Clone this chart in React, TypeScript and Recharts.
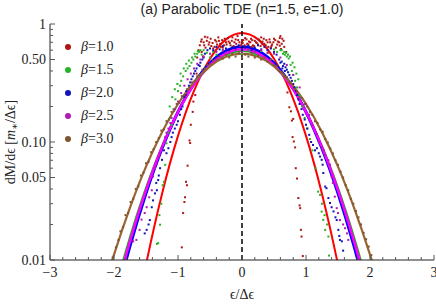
import React from 'react'
import { ComposedChart, Line, Scatter, XAxis, YAxis, ReferenceLine } from 'recharts'

const BETAS = ['1.0', '1.5', '2.0', '2.5', '3.0']
const LINE_COLORS = ['#ff0000', '#1fa51f', '#0000ff', '#ff00ff', '#996633']
const DOT_COLORS = ['#b01515', '#26b326', '#1313b8', '#b31ab3', '#7f5430']
const LINE_WIDTHS = [2, 1.5, 3, 2.5, 2.2]

// model curves, sampled every 0.25 in eps/deps
const CURVE_X = [-2.5, -2.25, -2, -1.75, -1.5, -1.25, -1, -0.75, -0.5, -0.25, 0, 0.25, 0.5, 0.75, 1, 1.25, 1.5, 1.75, 2, 2.25, 2.5]
const RED_CURVE = [0.000003, 0.00003, 0.00027, 0.00178, 0.00912, 0.0363, 0.1126, 0.271, 0.508, 0.741, 0.84, 0.741, 0.508, 0.271, 0.1126, 0.0363, 0.00912, 0.00178, 0.00027, 0.00003, 0.000003]
const GREEN_CURVE = [0.00037, 0.0015, 0.00526, 0.0159, 0.0415, 0.0934, 0.181, 0.304, 0.439, 0.548, 0.59, 0.548, 0.439, 0.304, 0.181, 0.0934, 0.0415, 0.0159, 0.00526, 0.0015, 0.00037]
const BLUE_CURVE = [0.00023, 0.00103, 0.00398, 0.0131, 0.0367, 0.088, 0.1797, 0.313, 0.466, 0.591, 0.64, 0.591, 0.466, 0.313, 0.1797, 0.088, 0.0367, 0.0131, 0.00398, 0.00103, 0.00023]
const MAGENTA_CURVE = [0.00029, 0.00125, 0.00458, 0.0144, 0.0389, 0.0902, 0.1795, 0.307, 0.449, 0.565, 0.61, 0.565, 0.449, 0.307, 0.1795, 0.0902, 0.0389, 0.0144, 0.00458, 0.00125, 0.00029]
const BROWN_CURVE = [0.00123, 0.00392, 0.0111, 0.0278, 0.0618, 0.1211, 0.21, 0.323, 0.438, 0.527, 0.56, 0.527, 0.438, 0.323, 0.21, 0.1211, 0.0618, 0.0278, 0.0111, 0.00392, 0.00123]

// simulation points [eps, dM/deps]
const RED_PTS = [
  [-0.94, 0.0128], [-0.92, 0.025], [-0.9, 0.031], [-0.89, 0.034], [-0.875, 0.046], [-0.86, 0.043], [-0.85, 0.063], [-0.82, 0.103],
  [-0.81, 0.098], [-0.8, 0.14], [-0.77, 0.18], [-0.76, 0.22], [-0.73, 0.25], [-0.71, 0.38], [-0.7, 0.52], [-0.68, 0.6],
  [-0.66, 0.66], [-0.63, 0.58], [-0.61, 0.53], [-0.63, 0.74], [-0.6, 0.7], [-0.57, 0.63], [-0.55, 0.72], [-0.52, 0.67],
  [-0.49, 0.75], [-0.46, 0.69], [-0.43, 0.64], [-0.4, 0.71], [-0.37, 0.77], [-0.34, 0.68], [-0.31, 0.73], [-0.28, 0.66],
  [-0.25, 0.7], [-0.22, 0.76], [-0.19, 0.69], [-0.16, 0.72], [-0.13, 0.65], [-0.1, 0.74], [-0.07, 0.79], [-0.04, 0.7],
  [-0.01, 0.67], [0.02, 0.73], [0.05, 0.76], [0.08, 0.68], [0.11, 0.71], [0.14, 0.75], [0.17, 0.66], [0.2, 0.72],
  [0.23, 0.69], [0.26, 0.74], [0.29, 0.65], [0.32, 0.71], [0.35, 0.68], [0.38, 0.73], [0.41, 0.64], [0.44, 0.7],
  [0.47, 0.67], [0.5, 0.75], [0.53, 0.63], [0.56, 0.71], [0.59, 0.76], [0.62, 0.68], [0.65, 0.72], [0.6, 0.79],
  [-0.58, 0.78], [-0.45, 0.62], [-0.3, 0.63], [-0.15, 0.77], [0.0, 0.71], [0.15, 0.64], [0.3, 0.77], [0.45, 0.63],
  [-0.64, 0.71], [-0.59, 0.66], [-0.54, 0.77], [-0.51, 0.7], [-0.48, 0.65], [-0.42, 0.73], [-0.39, 0.67], [-0.36, 0.72],
  [-0.33, 0.64], [-0.27, 0.75], [-0.24, 0.67], [-0.21, 0.71], [-0.18, 0.66], [-0.12, 0.7], [-0.09, 0.68], [-0.06, 0.73],
  [-0.03, 0.65], [0.01, 0.69], [0.04, 0.66], [0.07, 0.74], [0.1, 0.67], [0.13, 0.7], [0.16, 0.73], [0.19, 0.65],
  [0.22, 0.7], [0.25, 0.67], [0.28, 0.72], [0.31, 0.68], [0.34, 0.75], [0.37, 0.66], [0.4, 0.7], [0.43, 0.74],
  [0.46, 0.65], [0.49, 0.7], [0.52, 0.73], [0.55, 0.67], [0.58, 0.7], [0.63, 0.75], [0.66, 0.64],
  [0.59, 0.655], [0.61, 0.614], [0.69, 0.58], [0.71, 0.263], [0.74, 0.197], [0.765, 0.182], [0.78, 0.152], [0.8, 0.157],
  [0.79, 0.11], [0.81, 0.101], [0.83, 0.09], [0.84, 0.06], [0.86, 0.049], [0.88, 0.0335], [0.9, 0.029], [0.91, 0.0275],
  [0.92, 0.018], [0.93, 0.0158], [0.95, 0.0108],
]
const GREEN_PTS = [
  [-1.33, 0.0137], [-1.31, 0.0139], [-1.28, 0.0199], [-1.24, 0.043], [-1.22, 0.046], [-1.2, 0.064], [-1.18, 0.0975], [-1.15, 0.12],
  [-1.12, 0.16], [-1.1, 0.14], [-1.07, 0.19], [-1.04, 0.23], [-1.0, 0.27], [-0.97, 0.3], [-0.95, 0.33], [-0.92, 0.36],
  [-0.88, 0.4], [-0.85, 0.42], [-0.82, 0.44], [-0.79, 0.47], [-0.76, 0.5], [-0.73, 0.53], [-0.7, 0.56], [-0.67, 0.58],
  [-0.63, 0.55], [-0.6, 0.6], [-0.55, 0.57], [-0.5, 0.52], [-0.45, 0.58], [-0.4, 0.55], [-0.3, 0.6], [-0.2, 0.54],
  [-0.1, 0.58], [0.0, 0.56], [0.1, 0.6], [0.2, 0.55], [0.3, 0.59], [0.4, 0.57], [0.5, 0.61], [0.55, 0.58],
  [0.6, 0.6], [0.64, 0.56], [0.67, 0.55], [0.7, 0.53], [0.73, 0.51], [0.76, 0.45], [0.78, 0.4], [0.8, 0.37],
  [0.83, 0.33], [0.86, 0.29], [0.9, 0.25], [0.94, 0.2], [0.98, 0.16], [1.02, 0.13], [1.06, 0.106], [1.1, 0.085],
  [1.15, 0.06], [1.19, 0.038], [1.22, 0.0356], [1.245, 0.0257], [1.27, 0.0219], [1.3, 0.018], [1.35, 0.0158], [1.36, 0.0109],
  [-1.13, 0.2], [-1.09, 0.24], [-1.05, 0.28], [-1.01, 0.31], [-0.96, 0.38], [-0.91, 0.42], [-0.87, 0.46], [-0.83, 0.49],
  [-0.78, 0.52], [-0.74, 0.56], [-0.69, 0.59], [-0.65, 0.6], [0.62, 0.6], [0.66, 0.58], [0.69, 0.57], [0.72, 0.55],
  [0.75, 0.53], [0.79, 0.47], [0.82, 0.43], [0.85, 0.38], [0.88, 0.34], [1.25, 0.03], [1.29, 0.024], [1.33, 0.02],
  [-1.26, 0.03], [-1.29, 0.024],
]
const BLUE_PTS = [
  [-1.52, 0.0168], [-1.49, 0.018], [-1.44, 0.0218], [-1.41, 0.028], [-1.36, 0.0367], [-1.33, 0.039], [-1.31, 0.0476], [-1.28, 0.06],
  [-1.25, 0.0706], [-1.18, 0.0803], [-1.15, 0.0886], [-1.1, 0.11], [-1.05, 0.13], [-1.0, 0.15], [-0.97, 0.17], [-0.93, 0.2],
  [-0.9, 0.24], [-0.87, 0.27], [-0.83, 0.3], [-0.79, 0.34], [-0.75, 0.38], [-0.71, 0.42], [-0.68, 0.45], [-0.65, 0.47],
  [-0.62, 0.5], [-0.58, 0.56], [-0.54, 0.6], [-0.5, 0.62], [-0.45, 0.6], [-0.4, 0.64], [-0.35, 0.61], [-0.3, 0.65],
  [-0.25, 0.62], [-0.2, 0.6], [-0.15, 0.64], [-0.1, 0.62], [-0.05, 0.66], [0.0, 0.61], [0.05, 0.63], [0.1, 0.65],
  [0.15, 0.6], [0.2, 0.63], [0.25, 0.66], [0.3, 0.61], [0.35, 0.64], [0.4, 0.6], [0.45, 0.62], [0.5, 0.58],
  [0.54, 0.55], [0.58, 0.5], [0.62, 0.48], [0.64, 0.44], [0.66, 0.46], [0.68, 0.43], [0.7, 0.41], [0.74, 0.37],
  [0.78, 0.33], [0.82, 0.29], [0.86, 0.25], [0.9, 0.21], [0.95, 0.17], [1.0, 0.14], [1.05, 0.115], [1.11, 0.0944],
  [1.17, 0.0886], [1.2, 0.0803], [1.22, 0.0752], [1.245, 0.0706], [1.26, 0.0642], [1.27, 0.0546], [1.3, 0.0419], [1.32, 0.0406],
  [1.35, 0.0335], [1.375, 0.0304], [1.43, 0.0258], [1.48, 0.0218], [1.505, 0.018], [1.53, 0.0148], [1.56, 0.0144], [1.58, 0.012],
  [-1.46, 0.02], [-1.39, 0.032], [-1.34, 0.045], [-1.3, 0.052], [-1.22, 0.085], [-1.12, 0.1], [-1.08, 0.12], [-1.02, 0.14],
  [-0.95, 0.19], [-0.88, 0.25], [-0.81, 0.32], [-0.77, 0.36], [-0.73, 0.4], [-0.66, 0.44], [-0.6, 0.52], [0.6, 0.47],
  [0.63, 0.42], [0.67, 0.4], [0.72, 0.39], [0.76, 0.35], [0.8, 0.31], [0.84, 0.27], [0.88, 0.23], [0.93, 0.19],
  [0.98, 0.155], [1.02, 0.13], [1.08, 0.1], [1.14, 0.085], [1.4, 0.028], [1.46, 0.023], [1.52, 0.016],
]
const MAGENTA_PTS = [
  [-1.7, 0.0144], [-1.65, 0.0148], [-1.57, 0.022], [-1.49, 0.028], [-1.41, 0.039], [-1.39, 0.051], [-1.36, 0.06], [-1.3, 0.075],
  [-1.25, 0.09], [-1.2, 0.11], [-1.15, 0.13], [-1.1, 0.16], [-1.05, 0.19], [-1.0, 0.22], [-0.95, 0.26], [-0.9, 0.3],
  [-0.85, 0.34], [-0.8, 0.38], [-0.75, 0.42], [-0.7, 0.46], [-0.65, 0.5], [-0.6, 0.53], [-0.5, 0.56], [-0.4, 0.58],
  [-0.3, 0.6], [-0.2, 0.57], [-0.1, 0.6], [0.0, 0.58], [0.1, 0.61], [0.2, 0.58], [0.3, 0.6], [0.4, 0.57],
  [0.5, 0.56], [0.6, 0.52], [0.7, 0.45], [0.8, 0.37], [0.9, 0.29], [1.0, 0.21], [1.05, 0.17], [1.1, 0.14],
  [1.17, 0.117], [1.25, 0.09], [1.3, 0.078], [1.375, 0.0642], [1.4, 0.0508], [1.45, 0.0344], [1.48, 0.0275], [1.53, 0.0218],
  [1.61, 0.0186], [1.64, 0.0168], [1.66, 0.0148],
  [-1.6, 0.018], [-1.52, 0.025], [-1.45, 0.034], [-1.33, 0.065], [-1.28, 0.08], [1.35, 0.07], [1.42, 0.045], [1.5, 0.025],
  [1.58, 0.02], [1.28, 0.085], [1.2, 0.1], [-1.18, 0.12], [-1.12, 0.145],
]
const BROWN_PTS = [
  [-2.02, 0.0105], [-1.97, 0.0128], [-1.93, 0.0148], [-1.9, 0.0175], [-1.86, 0.019], [-1.82, 0.024], [-1.78, 0.025], [-1.74, 0.031],
  [-1.7, 0.033], [-1.66, 0.04], [-1.62, 0.042], [-1.58, 0.052], [-1.54, 0.055], [-1.5, 0.066], [-1.46, 0.068], [-1.42, 0.082],
  [-1.38, 0.087], [-1.34, 0.1], [-1.3, 0.108], [-1.26, 0.125], [-1.22, 0.128], [-1.18, 0.15], [-1.14, 0.155], [-1.1, 0.18],
  [-1.06, 0.185], [-1.02, 0.21], [-0.98, 0.215], [-0.94, 0.245], [-0.9, 0.25], [-0.86, 0.28], [-0.82, 0.29], [-0.78, 0.32],
  [-0.74, 0.33], [-0.7, 0.36], [-0.66, 0.37], [-0.62, 0.41], [-0.58, 0.42], [-0.54, 0.45], [-0.5, 0.46], [-0.45, 0.49],
  [-0.4, 0.5], [-0.35, 0.53], [-0.3, 0.51], [-0.25, 0.55], [-0.2, 0.52], [-0.15, 0.56], [-0.1, 0.53], [-0.05, 0.57],
  [0.0, 0.52], [0.05, 0.55], [0.1, 0.53], [0.15, 0.57], [0.2, 0.52], [0.25, 0.54], [0.3, 0.5], [0.35, 0.52],
  [0.4, 0.48], [0.45, 0.5], [0.5, 0.45], [0.54, 0.44], [0.58, 0.4], [0.62, 0.39], [0.66, 0.36], [0.7, 0.355],
  [0.74, 0.32], [0.78, 0.31], [0.82, 0.28], [0.86, 0.27], [0.9, 0.24], [0.94, 0.235], [0.98, 0.21], [1.02, 0.2],
  [1.06, 0.18], [1.1, 0.17], [1.14, 0.15], [1.18, 0.145], [1.22, 0.128], [1.26, 0.122], [1.3, 0.106], [1.34, 0.099],
  [1.38, 0.088], [1.42, 0.08], [1.46, 0.07], [1.5, 0.064], [1.54, 0.056], [1.58, 0.05], [1.62, 0.043], [1.66, 0.039],
  [1.7, 0.033], [1.74, 0.03], [1.78, 0.026], [1.82, 0.023], [1.86, 0.02], [1.9, 0.017], [1.94, 0.015], [1.98, 0.013], [2.02, 0.011],
]

const X_MAJOR = [-3, -2, -1, 0, 1, 2, 3]
const X_TICKS = Array.from({ length: 31 }, (_, i) => Math.round((-3 + i * 0.2) * 10) / 10)
const Y_TICKS = [0.01, 0.02, 0.03, 0.04, 0.05, 0.06, 0.07, 0.08, 0.09, 0.1, 0.2, 0.3, 0.4, 0.5, 0.6, 0.7, 0.8, 0.9, 1]
const Y_LABELS: Record<string, string> = { '0.01': '0.01', '0.05': '0.05', '0.1': '0.10', '0.5': '0.50', '1': '1' }

const CURVES = [RED_CURVE, GREEN_CURVE, BLUE_CURVE, MAGENTA_CURVE, BROWN_CURVE]
const POINTS = [RED_PTS, GREEN_PTS, BLUE_PTS, MAGENTA_PTS, BROWN_PTS]

const SERIF = '"Liberation Serif", "DejaVu Serif", serif'
const TICK_COLOR = '#555'

const toCurve = (ys: number[]) => CURVE_X.map((x, i) => ({ x, y: ys[i] }))
const toPts = (pts: number[][]) => pts.map(([x, y]) => ({ x, y }))

function fmtX(v: number) {
  return v < 0 ? '\u2212' + Math.abs(v) : String(v)
}

function BottomTick({ x, y, payload }: any) {
  const major = X_MAJOR.includes(payload.value)
  return (
    <g>
      <line x1={x} x2={x} y1={y} y2={y - (major ? 5 : 3)} stroke={TICK_COLOR} />
      {major && (
        <text x={x} y={y + 17} textAnchor="middle" fontFamily={SERIF} fontSize={14} fill="#222">
          {fmtX(payload.value)}
        </text>
      )}
    </g>
  )
}

function TopTick({ x, y, payload }: any) {
  const major = X_MAJOR.includes(payload.value)
  return <line x1={x} x2={x} y1={y} y2={y + (major ? 5 : 3)} stroke={TICK_COLOR} />
}

function LeftTick({ x, y, payload }: any) {
  const label = Y_LABELS[String(payload.value)]
  return (
    <g>
      <line x1={x} x2={x + (label ? 5 : 3)} y1={y} y2={y} stroke={TICK_COLOR} />
      {label && (
        <text x={x - 4} y={y} dy="0.33em" textAnchor="end" fontFamily={SERIF} fontSize={14} fill="#222">
          {label}
        </text>
      )}
    </g>
  )
}

function RightTick({ x, y, payload }: any) {
  const label = Y_LABELS[String(payload.value)]
  return <line x1={x} x2={x - (label ? 5 : 3)} y1={y} y2={y} stroke={TICK_COLOR} />
}

function YLabel({ viewBox }: any) {
  const cx = viewBox.x + 10
  const cy = viewBox.y + viewBox.height / 2
  return (
    <text x={cx} y={cy} transform={`rotate(-90 ${cx} ${cy})`} textAnchor="middle" dy="0.33em" fontFamily={SERIF} fontSize={14} fill="#222">
      dM/d{'\u03F5'} [<tspan fontStyle="italic">m</tspan>
      <tspan fontSize={10} dy={3}>{'\u2217'}</tspan>
      <tspan dy={-3}>/{'\u0394\u03F5'}]</tspan>
    </text>
  )
}

function XLabel({ viewBox }: any) {
  return (
    <text x={viewBox.x + viewBox.width / 2} y={viewBox.y + 39} textAnchor="middle" fontFamily={SERIF} fontSize={14} fill="#222">
      {'\u03F5/\u0394\u03F5'}
    </text>
  )
}

const dotShape = (color: string) => (props: any) => (
  <rect x={props.cx - 1} y={props.cy - 1} width={2} height={2} fill={color} />
)

export default function App() {
  return (
    <div style={{ position: 'absolute', left: 0, top: 0, width: 436, height: 304, background: '#fff' }}>
      <div
        style={{
          position: 'absolute', left: 50, top: 1, width: 384, textAlign: 'center',
          fontFamily: '"Liberation Sans", Arial, sans-serif', fontSize: 14, color: '#222', lineHeight: '16px',
        }}
      >
        (a) Parabolic TDE (n=1.5, e=1.0)
      </div>
      <ComposedChart width={436} height={304} margin={{ top: 24, right: 2, bottom: 0, left: 0 }}>
        <XAxis
          xAxisId="b" dataKey="x" type="number" domain={[-3, 3]} ticks={X_TICKS} interval={0}
          allowDataOverflow height={44} tickSize={0} tickMargin={0} tick={<BottomTick />}
          tickLine={false} axisLine={{ stroke: '#222' }} label={<XLabel />}
        />
        <XAxis
          xAxisId="t" orientation="top" type="number" domain={[-3, 3]} ticks={X_TICKS} interval={0}
          allowDataOverflow height={0} tickSize={0} tickMargin={0} tick={<TopTick />}
          tickLine={false} axisLine={{ stroke: '#222' }}
        />
        <YAxis
          yAxisId="l" dataKey="y" type="number" scale="log" domain={[0.01, 1]} ticks={Y_TICKS} interval={0}
          allowDataOverflow width={50} tickSize={0} tickMargin={0} tick={<LeftTick />}
          tickLine={false} axisLine={{ stroke: '#222' }} label={<YLabel />}
        />
        <YAxis
          yAxisId="r" orientation="right" type="number" scale="log" domain={[0.01, 1]} ticks={Y_TICKS} interval={0}
          allowDataOverflow width={0} tickSize={0} tickMargin={0} tick={<RightTick />}
          tickLine={false} axisLine={{ stroke: '#222' }}
        />
        {POINTS.map((pts, i) => (
          <Scatter
            key={'p' + i} xAxisId="b" yAxisId="l" data={toPts(pts)} dataKey="y"
            shape={dotShape(DOT_COLORS[i])} isAnimationActive={false}
          />
        ))}
        {CURVES.map((ys, i) => (
          <Line
            key={'c' + i} xAxisId="b" yAxisId="l" data={toCurve(ys)} dataKey="y" type="monotone"
            stroke={LINE_COLORS[i]} strokeWidth={LINE_WIDTHS[i]} dot={false} activeDot={false}
            isAnimationActive={false}
          />
        ))}
        <ReferenceLine xAxisId="b" yAxisId="l" x={0} stroke="#000" strokeWidth={1.5} strokeDasharray="5 3" />
      </ComposedChart>
      {BETAS.map((b, i) => (
        <div
          key={b}
          style={{
            position: 'absolute', left: 65, top: 35 + i * 23.2, height: 23, display: 'flex', alignItems: 'center',
            fontFamily: SERIF, fontSize: 14, color: '#222',
          }}
        >
          <span style={{ width: 6, height: 6, borderRadius: 3, background: DOT_COLORS[i], marginRight: 10 }} />
          <span>
            <i>{'\u03B2'}</i>={b}
          </span>
        </div>
      ))}
    </div>
  )
}
